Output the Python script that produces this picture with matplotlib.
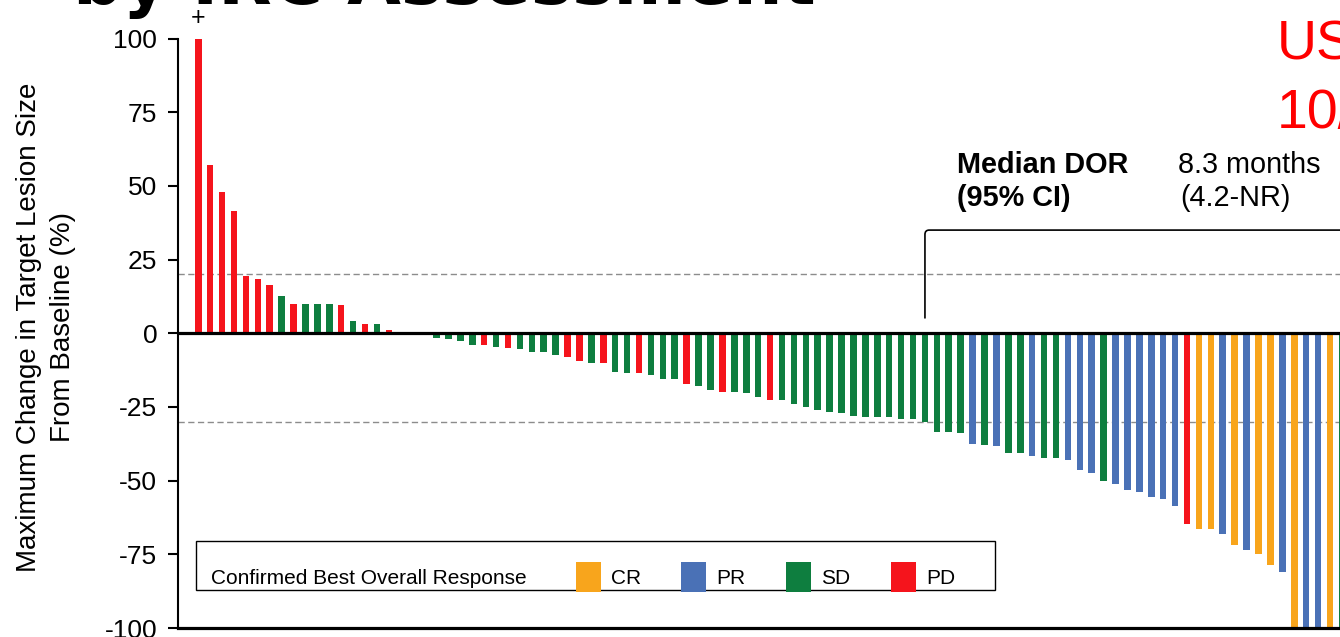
import numpy as np
import matplotlib
matplotlib.use("Agg")
import matplotlib.pyplot as plt
from matplotlib.patches import Rectangle, PathPatch
from matplotlib.path import Path

plt.rcParams['font.family'] = ['Liberation Sans', 'DejaVu Sans']

# best % change in target lesion size, one bar per patient (first one is >100, capped)
change = [100, 57, 48, 41.5, 19.5, 18.5, 16.5, 12.5, 10, 10, 10, 10, 9.5, 4, 3, 3, 1,
          0, 0, 0,
          -1.7, -2.0, -2.7, -4.1, -4.1, -4.8, -5.1, -5.5, -6.5, -6.5, -7.5, -8.2, -9.3,
          -10.1, -10.1, -13.1, -13.4, -13.5, -14.2, -15.4, -15.4, -17.2, -17.8, -19.3, -19.8,
          -20.0, -20.4, -21.6, -22.5, -22.5, -24.1, -25.1, -25.9, -26.6, -27.1, -28.0, -28.4,
          -28.4, -28.4, -29.2, -29.2, -30.1, -33.4, -33.4, -33.8, -37.7, -37.8, -38.2,
          -40.6, -40.6, -41.8, -42.3, -42.3, -43.1, -46.5, -47.3, -50.0, -51.3, -53.2, -53.8,
          -55.7, -56.3, -58.5, -64.6, -66.4,
          -66.4, -68.0, -71.7, -73.4, -74.8, -78.7, -81.1, -100, -100, -100, -100, -100]
response = ['PD', 'PD', 'PD', 'PD', 'PD', 'PD', 'PD', 'SD', 'PD', 'SD', 'SD', 'SD', 'PD',
            'SD', 'PD', 'SD', 'PD',
            'SD', 'SD', 'SD',
            'SD', 'SD', 'SD', 'SD', 'PD', 'SD', 'PD', 'SD', 'SD', 'SD', 'SD', 'PD', 'PD',
            'SD', 'PD', 'SD', 'SD', 'PD', 'SD', 'SD', 'SD', 'PD', 'SD', 'SD', 'PD',
            'SD', 'SD', 'SD', 'PD', 'SD', 'SD', 'SD', 'SD', 'SD', 'SD', 'SD', 'SD',
            'SD', 'SD', 'SD', 'SD', 'SD', 'SD', 'SD', 'SD', 'PR', 'SD', 'PR',
            'SD', 'SD', 'PR', 'SD', 'SD', 'PR', 'PR', 'PR', 'SD', 'PR', 'PR', 'PR',
            'PR', 'PR', 'PR', 'PD', 'CR',
            'CR', 'PR', 'CR', 'PR', 'CR', 'CR', 'PR', 'CR', 'PR', 'PR', 'CR', 'SD']
legend_labels = ['CR', 'PR', 'SD', 'PD']
colors = {'CR': '#F8A51C', 'PR': '#4A71B6', 'SD': '#0E7E3F', 'PD': '#F5141C'}
yticks = [100, 75, 50, 25, 0, -25, -50, -75, -100]
dor_bar = 61  # bracket starts above this bar

W, H = 1340, 637
fig = plt.figure(figsize=(W / 100, H / 100), dpi=100)
ax = fig.add_axes([178 / W, 9 / H, (W - 178) / W, (628 - 38.5) / H])

x = np.arange(len(change))
ax.bar(x, change, width=0.55, color=[colors[r] for r in response], zorder=2)

ax.axhline(0, color='black', lw=2.3, zorder=3)
for yy in [20, -30]:
    ax.axhline(yy, color='#8C8C8C', lw=1.0, ls=(0, (4.5, 2.5)), zorder=1)

ax.set_xlim(-1.70, 95.84)
ax.set_ylim(-100, 100)
ax.set_yticks(yticks)
ax.set_yticklabels([str(t) for t in yticks], fontsize=19)
ax.tick_params(axis='y', length=7, width=1.5, pad=8)
ax.set_xticks([])
for s in ['top', 'right']:
    ax.spines[s].set_visible(False)
ax.spines['left'].set_linewidth(1.5)
ax.spines['bottom'].set_linewidth(2.3)
ax.spines['bottom'].set_zorder(4)

# "+" marks the bar that goes past the axis
ax.text(x[0], 103, '+', ha='center', va='bottom', fontsize=18)

# DOR bracket
x0, x1 = dor_bar, 96
verts = [(x0, 5), (x0, 33.5), (x0, 35), (x0 + 0.35, 35), (x1, 35)]
codes = [Path.MOVETO, Path.LINETO, Path.CURVE3, Path.CURVE3, Path.LINETO]
ax.add_patch(PathPatch(Path(verts, codes), fill=False, lw=1.2, ec='black',
                       clip_on=False, zorder=3))


def px(xp, yp):
    return xp / W, 1 - yp / H


fig.text(*px(957, 173), 'Median DOR', fontsize=20.8, fontweight='bold', va='baseline')
fig.text(*px(957, 206), '(95% CI)', fontsize=20.8, fontweight='bold', va='baseline')
fig.text(*px(1178, 173), '8.3 months', fontsize=20.8, va='baseline')
fig.text(*px(1180, 206), '(4.2-NR)', fontsize=20.8, va='baseline')

# y label
fig.text(*px(46, 327), 'Maximum Change in Target Lesion Size\nFrom Baseline (%)',
         rotation=90, ha='center', va='center', fontsize=20, linespacing=1.4,
         multialignment='center')

# cut-off slide title and red note
fig.text(*px(73, 4), 'by IRC Assessment', fontsize=50, fontweight='bold',
         family='DejaVu Sans', va='baseline')
fig.text(*px(1277, 60), 'US', fontsize=40, color='#FF0000', va='baseline')
fig.text(*px(1277, 128), '10/', fontsize=40, color='#FF0000', va='baseline')

# legend box
fig.add_artist(Rectangle(px(196, 590), (995 - 196) / W, (590 - 541) / H,
                         transform=fig.transFigure, fill=False, ec='black', lw=1.0))
fig.text(*px(211, 584), 'Confirmed Best Overall Response', fontsize=15, va='baseline')
for lab, xl in zip(legend_labels, [576, 681, 786, 891]):
    fig.add_artist(Rectangle(px(xl, 592), 25 / W, 30 / H, transform=fig.transFigure,
                             color=colors[lab], lw=0))
    fig.text(*px(xl + 35, 584), lab, fontsize=15, va='baseline')

fig.savefig('out.png', dpi=100)
